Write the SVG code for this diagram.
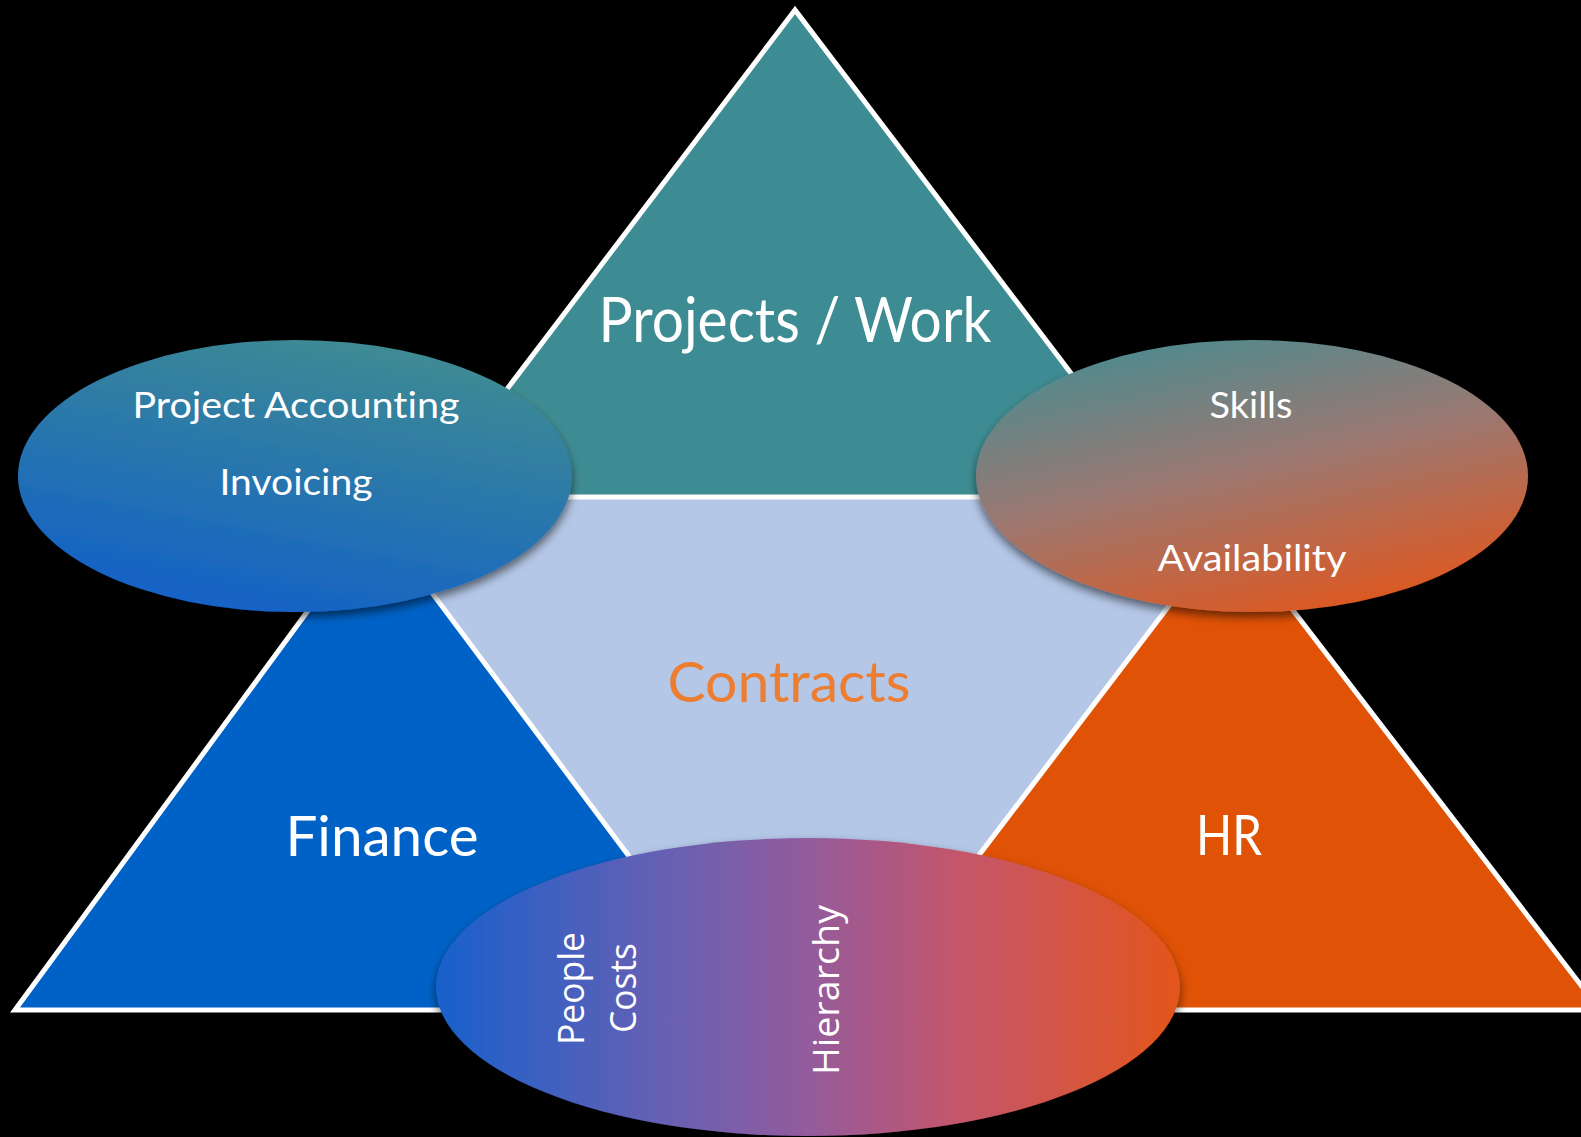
<svg xmlns="http://www.w3.org/2000/svg" width="1581" height="1137" viewBox="0 0 1581 1137">
  <style>
    .tri { stroke: #FFFFFF; stroke-width: 5; stroke-linejoin: miter; }
    .big { font-family: Lato, "Open Sans", "DejaVu Sans", sans-serif; fill: #FFFFFF; text-anchor: middle; font-variant-ligatures: none; }
    .small { font-family: Lato, "Open Sans", "DejaVu Sans", sans-serif; fill: #FFFFFF; text-anchor: middle; font-size: 36px; font-variant-ligatures: none; }
    .rot { font-family: "Open Sans", "DejaVu Sans", sans-serif; fill: #FFFFFF; text-anchor: middle; font-size: 36px; }
  </style>
  <defs>
    <linearGradient id="gLeft" x1="0.3" y1="1" x2="0.7" y2="0">
      <stop offset="0" stop-color="#1260C8"/>
      <stop offset="1" stop-color="#3F8C92"/>
    </linearGradient>
    <linearGradient id="gRight" x1="0.3" y1="0" x2="0.75" y2="1">
      <stop offset="0" stop-color="#4F8A8E"/>
      <stop offset="0.45" stop-color="#9A7872"/>
      <stop offset="1" stop-color="#E2561C"/>
    </linearGradient>
    <linearGradient id="gBottom" x1="0" y1="0" x2="1" y2="0">
      <stop offset="0" stop-color="#1860CC"/>
      <stop offset="0.3" stop-color="#6560B4"/>
      <stop offset="0.5" stop-color="#935B9C"/>
      <stop offset="0.7" stop-color="#C4566C"/>
      <stop offset="1" stop-color="#E3541A"/>
    </linearGradient>
    <filter id="shadow" x="-10%" y="-10%" width="120%" height="130%">
      <feDropShadow dx="0" dy="5" stdDeviation="5" flood-color="#000000" flood-opacity="0.55"/>
    </filter>
  </defs>
  <rect x="0" y="0" width="1581" height="1137" fill="#000000"/>

  <g id="contracts">
    <polygon points="361,497 1252,497 802,1087" fill="#B4C7E7"/>
    <text class="big" x="789" y="702" font-size="56" style="fill:#ED7D31" textLength="243" lengthAdjust="spacingAndGlyphs">Contracts</text>
  </g>

  <g id="projects-work">
    <polygon class="tri" points="795,10 425,497 1165,497" fill="#3E8C93"/>
    <text class="big" x="795" y="342" font-size="61" textLength="393" lengthAdjust="spacingAndGlyphs">Projects / Work</text>
  </g>

  <g id="finance">
    <polygon class="tri" points="376,518 15,1010 744,1010" fill="#0062C7"/>
    <text class="big" x="382" y="856" font-size="56" textLength="193" lengthAdjust="spacingAndGlyphs">Finance</text>
  </g>

  <g id="hr">
    <polygon class="tri" points="1229,527 861,1010 1600,1010" fill="#E05206"/>
    <text class="big" x="1229" y="855" font-size="56" textLength="66" lengthAdjust="spacingAndGlyphs">HR</text>
  </g>

  <g id="connectors"></g>

  <g id="finance-projects">
    <ellipse cx="295" cy="476" rx="277" ry="136" fill="url(#gLeft)" filter="url(#shadow)"/>
    <text class="small" x="296" y="418" textLength="327" lengthAdjust="spacingAndGlyphs">Project Accounting</text>
    <text class="small" x="296" y="495" textLength="153" lengthAdjust="spacingAndGlyphs">Invoicing</text>
  </g>

  <g id="projects-hr">
    <ellipse cx="1252" cy="476" rx="276" ry="136" fill="url(#gRight)" filter="url(#shadow)"/>
    <text class="small" x="1251" y="418" textLength="83" lengthAdjust="spacingAndGlyphs">Skills</text>
    <text class="small" x="1252" y="571" textLength="189" lengthAdjust="spacingAndGlyphs">Availability</text>
  </g>

  <g id="finance-hr">
    <ellipse cx="808" cy="987" rx="372" ry="149" fill="url(#gBottom)" filter="url(#shadow)"/>
    <text class="rot" transform="translate(584,988.5) rotate(-90)" x="0" y="0" textLength="113" lengthAdjust="spacingAndGlyphs">People</text>
    <text class="rot" transform="translate(636,988) rotate(-90)" x="0" y="0" textLength="90" lengthAdjust="spacingAndGlyphs">Costs</text>
    <text class="rot" transform="translate(839,990) rotate(-90)" x="0" y="0" textLength="170" lengthAdjust="spacingAndGlyphs">Hierarchy</text>
  </g>
</svg>
